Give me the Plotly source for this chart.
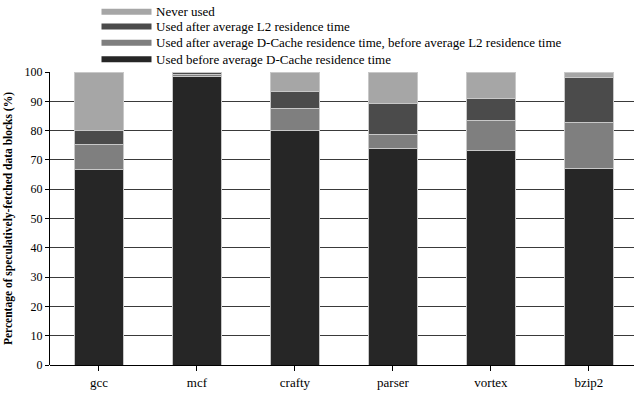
import plotly.graph_objects as go

categories = ["gcc", "mcf", "crafty", "parser", "vortex", "bzip2"]

# Percent of speculatively-fetched blocks in each usage class (stacked bottom to top)
used_before_dcache = [66.8, 98.5, 80.0, 74.0, 73.1, 67.1]
used_between = [8.5, 0.6, 7.7, 4.8, 10.3, 15.6]
used_after_l2 = [4.6, 0.6, 5.5, 10.3, 7.5, 15.3]
never_used = [20.1, 0.3, 6.8, 10.9, 9.1, 2.0]

series = [
    ("Used before average D-Cache residence time", used_before_dcache, "#262626"),
    ("Used after average D-Cache residence time, before average L2 residence time", used_between, "#7f7f7f"),
    ("Used after average L2 residence time", used_after_l2, "#4b4b4b"),
    ("Never used", never_used, "#a6a6a6"),
]

font_family = "Liberation Serif, Times New Roman, serif"

W, H = 634, 394
M_L, M_R, M_T, M_B = 50, 0, 72, 29
plot_w = W - M_L - M_R
plot_h = H - M_T - M_B

fig = go.Figure()
for name, vals, color in series:
    fig.add_trace(go.Bar(
        x=categories, y=vals, name=name, showlegend=False,
        marker=dict(color=color, line=dict(color="#c8c8c8", width=1)),
        width=0.5,
    ))

# Compact legend above the plot: wide swatch + label per series, top entry first
legend_x0, legend_x1, label_x = 101.5, 151.5, 153.5
legend_rows = [11.7, 26.5, 42.8, 59.3]
shapes, annotations = [], []
for (name, vals, color), row in zip(reversed(series), legend_rows):
    yp = (M_T + plot_h - row) / plot_h
    shapes.append(dict(
        type="line", xref="paper", yref="paper",
        x0=(legend_x0 - M_L) / plot_w, x1=(legend_x1 - M_L) / plot_w,
        y0=yp, y1=yp, line=dict(color=color, width=6),
    ))
    annotations.append(dict(
        text=name, xref="paper", yref="paper",
        x=(label_x - M_L) / plot_w, y=yp,
        xanchor="left", yanchor="middle", showarrow=False,
        font=dict(family=font_family, size=13, color="black"),
    ))

fig.update_layout(
    width=W, height=H,
    barmode="stack",
    showlegend=False,
    plot_bgcolor="white", paper_bgcolor="white",
    margin=dict(l=M_L, r=M_R, t=M_T, b=M_B),
    font=dict(family=font_family, size=13, color="black"),
    shapes=shapes,
    annotations=annotations,
    xaxis=dict(
        range=[-0.5, 5.46], showgrid=False,
        ticks="outside", ticklen=5, tickcolor="black",
        showline=False, tickfont=dict(family=font_family, size=13),
    ),
    yaxis=dict(
        range=[0, 100], tickvals=list(range(0, 101, 10)),
        showgrid=True, gridcolor="#3a3a3a", gridwidth=1.3,
        showline=True, linecolor="black", linewidth=1,
        ticks="outside", ticklen=4, tickcolor="black",
        zeroline=True, zerolinecolor="black", zerolinewidth=1.3,
        tickfont=dict(family=font_family, size=12),
        title=dict(text="<b>Percentage of speculatively-fetched data blocks (%)</b>",
                   font=dict(family=font_family, size=11.5), standoff=9),
    ),
)

fig.write_html("out.html")
